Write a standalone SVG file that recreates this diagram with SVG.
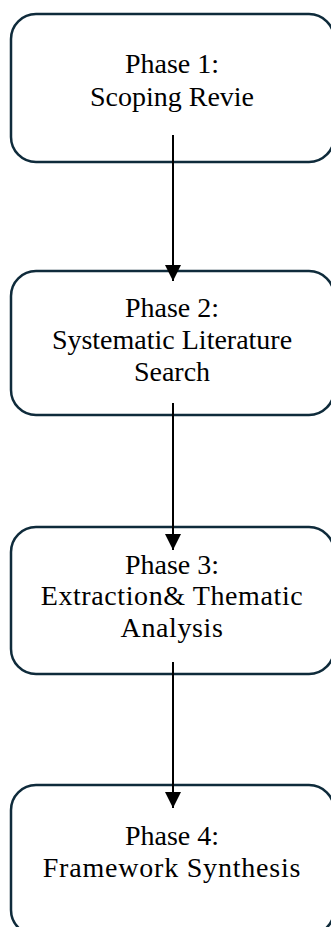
<svg xmlns="http://www.w3.org/2000/svg" width="331" height="927" viewBox="0 0 331 927">
  <defs>
    <marker id="arrow" markerUnits="userSpaceOnUse" markerWidth="16" markerHeight="18" refX="16" refY="8" orient="auto">
      <path d="M0,0 L16,8 L0,16 Z" fill="#000"/>
    </marker>
    <style>
      .box { fill: #fff; stroke: #0f2b3b; stroke-width: 2.5; }
      .lbl { font-family: "Liberation Serif", "Times New Roman", serif; font-size: 28px; fill: #000; text-anchor: middle; }
      .conn { stroke: #000; stroke-width: 2; fill: none; marker-end: url(#arrow); }
    </style>
  </defs>
  <rect width="331" height="927" fill="#fff"/>
  <g id="phase1">
    <rect class="box" x="11" y="14" width="323" height="148" rx="25"/>
    <text class="lbl" x="172" y="73">Phase 1:</text>
    <text class="lbl" x="172" y="106">Scoping Revie</text>
  </g>
  <g id="phase2">
    <rect class="box" x="11" y="271" width="323" height="144" rx="25"/>
    <text class="lbl" x="172" y="317">Phase 2:</text>
    <text class="lbl" x="172" y="349">Systematic Literature</text>
    <text class="lbl" x="172" y="381">Search</text>
  </g>
  <g id="phase3">
    <rect class="box" x="11" y="527" width="323" height="147" rx="25"/>
    <text class="lbl" x="172" y="574">Phase 3:</text>
    <text class="lbl" x="172" y="605" letter-spacing="0.6">Extraction&amp; Thematic</text>
    <text class="lbl" x="172" y="637" letter-spacing="0.6">Analysis</text>
  </g>
  <g id="phase4">
    <rect class="box" x="11" y="785" width="323" height="150" rx="25"/>
    <text class="lbl" x="172" y="845">Phase 4:</text>
    <text class="lbl" x="172" y="877" letter-spacing="0.8">Framework Synthesis</text>
  </g>
  <g id="connectors">
    <line class="conn" x1="173" y1="135" x2="173" y2="281"/>
    <line class="conn" x1="173" y1="403" x2="173" y2="550"/>
    <line class="conn" x1="173" y1="662" x2="173" y2="808"/>
  </g>
</svg>
